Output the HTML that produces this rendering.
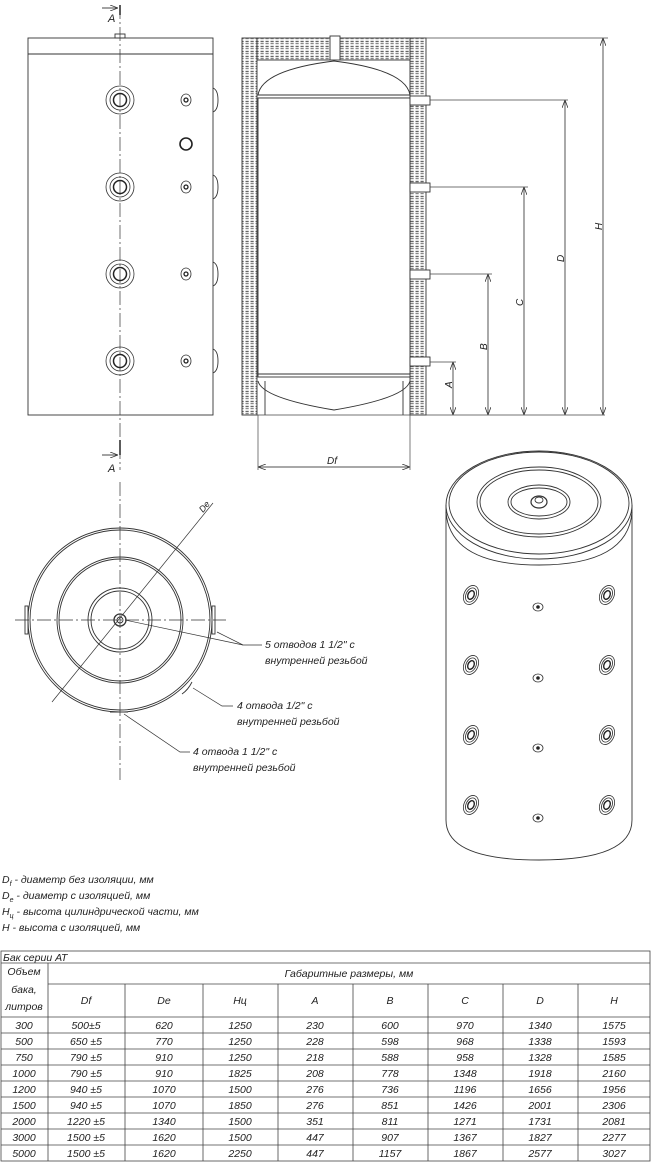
<!DOCTYPE html>
<html><head><meta charset="utf-8"><style>
html,body{margin:0;padding:0;background:#fff}
svg{display:block}
text{font-family:"Liberation Sans",sans-serif;font-style:italic;fill:#222}
</style></head><body>
<svg width="651" height="1162" viewBox="0 0 651 1162" xmlns="http://www.w3.org/2000/svg">
<defs>
<pattern id="ins" width="5" height="5" patternUnits="userSpaceOnUse">
<rect width="5" height="5" fill="#fff"/><rect x="0.5" y="0.8" width="3.2" height="1.4" fill="#666"/><rect x="0.5" y="3" width="3.2" height="1.2" fill="#888"/>
</pattern>
<marker id="ar" markerWidth="8" markerHeight="6" refX="8" refY="3" orient="auto" markerUnits="userSpaceOnUse"><path d="M0,0 L8,3 L0,6" fill="none" stroke="#333" stroke-width="0.8"/></marker>
<g id="noz"><circle r="14" fill="none" stroke="#333" stroke-width="0.8"/><circle r="10" fill="none" stroke="#333" stroke-width="0.8"/><circle r="6.5" fill="none" stroke="#222" stroke-width="1.5"/></g>
<g id="sm"><ellipse rx="5" ry="6" fill="none" stroke="#333" stroke-width="0.8"/><circle r="2" fill="none" stroke="#222" stroke-width="1.3"/></g>
<g id="n3"><ellipse rx="7" ry="10" transform="rotate(25)" fill="none" stroke="#333" stroke-width="0.8"/><ellipse rx="5" ry="7.5" transform="rotate(25)" fill="none" stroke="#333" stroke-width="0.8"/><ellipse rx="3" ry="4.5" transform="rotate(25)" fill="none" stroke="#222" stroke-width="1.4"/></g>
<g id="s3"><ellipse rx="5" ry="4" fill="none" stroke="#333" stroke-width="0.8"/><circle r="1.8" fill="#222"/></g>
</defs>
<g fill="none" stroke="#333" stroke-width="0.9">
<rect x="28" y="38" width="185" height="377"/>
<line x1="28" y1="54" x2="213" y2="54"/>
<rect x="115" y="34" width="10" height="4"/>
<line x1="120" y1="5" x2="120" y2="470" stroke-dasharray="14,3,2,3" stroke-width="0.7"/>
<line x1="120" y1="5" x2="120" y2="15" stroke-width="1.6"/>
<line x1="120" y1="440" x2="120" y2="455" stroke-width="1.6"/>
<line x1="102" y1="8" x2="118" y2="8" marker-end="url(#ar)"/>
<line x1="102" y1="455" x2="118" y2="455" marker-end="url(#ar)"/>
<path d="M213,88 q5,2 5,12 q0,10 -5,12 M213,175 q5,2 5,12 q0,10 -5,12 M213,262 q5,2 5,12 q0,10 -5,12 M213,349 q5,2 5,12 q0,10 -5,12"/>
</g>
<use href="#noz" x="120" y="100"/><use href="#noz" x="120" y="187"/><use href="#noz" x="120" y="274"/><use href="#noz" x="120" y="361"/>
<use href="#sm" x="186" y="100"/><use href="#sm" x="186" y="187"/><use href="#sm" x="186" y="274"/><use href="#sm" x="186" y="361"/>
<circle cx="186" cy="144" r="6" fill="none" stroke="#222" stroke-width="1.6"/>
<text x="108" y="22" font-size="11">A</text>
<text x="108" y="472" font-size="11">A</text>

<g stroke="#333" stroke-width="0.9">
<rect x="242" y="38" width="15" height="377" fill="url(#ins)"/>
<rect x="410" y="38" width="16" height="377" fill="url(#ins)"/>
<rect x="257" y="38" width="153" height="22" fill="url(#ins)"/>
<rect x="330" y="36" width="10" height="24" fill="#fff"/>
<path d="M258,95 Q262,70 334,61 Q406,70 410,95 Z" fill="#fff"/>
<line x1="258" y1="95" x2="410" y2="95"/><line x1="258" y1="98" x2="410" y2="98"/>
<rect x="258" y="98" width="152" height="279" fill="#fff"/>
<line x1="258" y1="374" x2="410" y2="374"/>
<path d="M258,381 Q262,398 334,410 Q406,398 410,381" fill="none"/>
<line x1="265" y1="381" x2="265" y2="415"/><line x1="403" y1="381" x2="403" y2="415"/>
<rect x="410" y="96" width="20" height="9" fill="#fff"/>
<rect x="410" y="183" width="20" height="9" fill="#fff"/>
<rect x="410" y="270" width="20" height="9" fill="#fff"/>
<rect x="410" y="357" width="20" height="9" fill="#fff"/>
</g>
<g fill="none" stroke="#444" stroke-width="0.7">
<line x1="242" y1="415" x2="605" y2="415"/>
<line x1="340" y1="38" x2="608" y2="38"/>
<line x1="430" y1="100" x2="568" y2="100"/>
<line x1="430" y1="187" x2="528" y2="187"/>
<line x1="430" y1="274" x2="492" y2="274"/>
<line x1="430" y1="362" x2="456" y2="362"/>
<line x1="453" y1="362" x2="453" y2="415" marker-end="url(#ar)"/><line x1="453" y1="415" x2="453" y2="362" marker-end="url(#ar)"/>
<line x1="488" y1="274" x2="488" y2="415" marker-end="url(#ar)"/><line x1="488" y1="415" x2="488" y2="274" marker-end="url(#ar)"/>
<line x1="524" y1="187" x2="524" y2="415" marker-end="url(#ar)"/><line x1="524" y1="415" x2="524" y2="187" marker-end="url(#ar)"/>
<line x1="565" y1="100" x2="565" y2="415" marker-end="url(#ar)"/><line x1="565" y1="415" x2="565" y2="100" marker-end="url(#ar)"/>
<line x1="603" y1="38" x2="603" y2="415" marker-end="url(#ar)"/><line x1="603" y1="415" x2="603" y2="38" marker-end="url(#ar)"/>
<line x1="258" y1="415" x2="258" y2="470"/><line x1="410" y1="415" x2="410" y2="470"/>
<line x1="258" y1="467" x2="410" y2="467" marker-end="url(#ar)"/><line x1="410" y1="467" x2="258" y2="467" marker-end="url(#ar)"/>
</g>
<text font-size="10" transform="translate(452,388) rotate(-90)">A</text>
<text font-size="10" transform="translate(487,350) rotate(-90)">B</text>
<text font-size="10" transform="translate(523,306) rotate(-90)">C</text>
<text font-size="10" transform="translate(564,262) rotate(-90)">D</text>
<text font-size="10" transform="translate(602,230) rotate(-90)">H</text>
<text x="327" y="464" font-size="10">Df</text>

<g fill="none" stroke="#333" stroke-width="0.9">
<circle cx="120" cy="620" r="92"/><circle cx="120" cy="620" r="90"/>
<circle cx="120" cy="620" r="63"/><circle cx="120" cy="620" r="61"/>
<circle cx="120" cy="620" r="32"/><circle cx="120" cy="620" r="29"/>
<circle cx="120" cy="620" r="6" stroke-width="1.3"/><circle cx="120" cy="620" r="3"/>
<line x1="15" y1="620" x2="226" y2="620" stroke-dasharray="14,3,2,3" stroke-width="0.7"/>
<line x1="120" y1="482" x2="120" y2="780" stroke-dasharray="14,3,2,3" stroke-width="0.7"/>
<line x1="52" y1="702" x2="213" y2="503" stroke-width="0.7"/>
<rect x="25" y="606" width="3" height="28"/><rect x="212" y="606" width="3" height="28"/>
<path d="M182,694 q6,-4 10,-12"/><path d="M110,712 h18"/>
<g stroke-width="0.7"><path d="M262,645 H243 L217,632"/><line x1="243" y1="645" x2="125" y2="620"/>
<path d="M233,706 H222 L193,688"/><path d="M190,752 H180 L124,714"/></g>
</g>
<text font-size="9" transform="translate(203,513) rotate(-50)">De</text>
<text x="265" y="648" font-size="10.5">5 отводов  1 1/2"  с</text>
<text x="265" y="664" font-size="10.5">внутренней резьбой</text>
<text x="237" y="709" font-size="10.5">4 отвода  1/2"  с</text>
<text x="237" y="725" font-size="10.5">внутренней резьбой</text>
<text x="193" y="755" font-size="10.5">4 отвода  1 1/2"  с</text>
<text x="193" y="771" font-size="10.5">внутренней резьбой</text>

<g fill="none" stroke="#333" stroke-width="0.9">
<path d="M446,505 L446,820 Q446,860 539,860 Q632,860 632,820 L632,505"/>
<ellipse cx="539" cy="505" rx="93" ry="54"/>
<ellipse cx="539" cy="503" rx="90" ry="51"/>
<path d="M446,512 Q450,565 539,565 Q628,565 632,512"/>
<ellipse cx="539" cy="502" rx="62" ry="35"/><ellipse cx="539" cy="502" rx="59" ry="32"/>
<ellipse cx="539" cy="502" rx="31" ry="17"/><ellipse cx="539" cy="502" rx="28" ry="14"/>
<ellipse cx="539" cy="502" rx="8" ry="6" stroke-width="1.2"/><ellipse cx="539" cy="500" rx="4" ry="3"/>
</g>
<use href="#n3" x="471" y="595"/><use href="#n3" x="607" y="595"/>
<use href="#n3" x="471" y="665"/><use href="#n3" x="607" y="665"/>
<use href="#n3" x="471" y="735"/><use href="#n3" x="607" y="735"/>
<use href="#n3" x="471" y="805"/><use href="#n3" x="607" y="805"/>
<use href="#s3" x="538" y="607"/><use href="#s3" x="538" y="678"/><use href="#s3" x="538" y="748"/><use href="#s3" x="538" y="818"/>

<text x="2" y="883" font-size="10.5">D<tspan font-size="7" dy="3">f</tspan><tspan dy="-3">  -  диаметр без изоляции, мм</tspan></text>
<text x="2" y="899" font-size="10.5">D<tspan font-size="7" dy="3">e</tspan><tspan dy="-3">  -  диаметр с изоляцией, мм</tspan></text>
<text x="2" y="915" font-size="10.5">H<tspan font-size="7" dy="3">ц</tspan><tspan dy="-3">  -  высота цилиндрической части, мм</tspan></text>
<text x="2" y="931" font-size="10.5">H  -  высота с изоляцией, мм</text>

<g stroke="#444" stroke-width="0.8" fill="none">
<rect x="1" y="951" width="649" height="210"/>
<line x1="1" y1="963" x2="650" y2="963"/>
<line x1="48" y1="984" x2="650" y2="984"/>
<line x1="1" y1="1017" x2="650" y2="1017"/>
<line x1="1" y1="1033" x2="650" y2="1033"/><line x1="1" y1="1049" x2="650" y2="1049"/>
<line x1="1" y1="1065" x2="650" y2="1065"/><line x1="1" y1="1081" x2="650" y2="1081"/>
<line x1="1" y1="1097" x2="650" y2="1097"/><line x1="1" y1="1113" x2="650" y2="1113"/>
<line x1="1" y1="1129" x2="650" y2="1129"/><line x1="1" y1="1145" x2="650" y2="1145"/>
<line x1="48" y1="963" x2="48" y2="1161"/>
<line x1="125" y1="984" x2="125" y2="1161"/><line x1="203" y1="984" x2="203" y2="1161"/>
<line x1="278" y1="984" x2="278" y2="1161"/><line x1="353" y1="984" x2="353" y2="1161"/>
<line x1="428" y1="984" x2="428" y2="1161"/><line x1="503" y1="984" x2="503" y2="1161"/>
<line x1="578" y1="984" x2="578" y2="1161"/>
</g>
<text x="3" y="961" font-size="10.5">Бак серии  АТ</text>
<g font-size="10.5" text-anchor="middle">
<text x="24" y="975">Объем</text><text x="24" y="993">бака,</text><text x="24" y="1010">литров</text>
<text x="349" y="977">Габаритные размеры, мм</text>
<text x="86" y="1004">Df</text><text x="164" y="1004">De</text><text x="240" y="1004">Нц</text><text x="315" y="1004">A</text><text x="390" y="1004">B</text><text x="465" y="1004">C</text><text x="540" y="1004">D</text><text x="614" y="1004">H</text>
</g>
<g font-size="10.5" text-anchor="middle">
<g transform="translate(0,1029)"><text x="24">300</text><text x="86">500±5</text><text x="164">620</text><text x="240">1250</text><text x="315">230</text><text x="390">600</text><text x="465">970</text><text x="540">1340</text><text x="614">1575</text></g>
<g transform="translate(0,1045)"><text x="24">500</text><text x="86">650 ±5</text><text x="164">770</text><text x="240">1250</text><text x="315">228</text><text x="390">598</text><text x="465">968</text><text x="540">1338</text><text x="614">1593</text></g>
<g transform="translate(0,1061)"><text x="24">750</text><text x="86">790 ±5</text><text x="164">910</text><text x="240">1250</text><text x="315">218</text><text x="390">588</text><text x="465">958</text><text x="540">1328</text><text x="614">1585</text></g>
<g transform="translate(0,1077)"><text x="24">1000</text><text x="86">790 ±5</text><text x="164">910</text><text x="240">1825</text><text x="315">208</text><text x="390">778</text><text x="465">1348</text><text x="540">1918</text><text x="614">2160</text></g>
<g transform="translate(0,1093)"><text x="24">1200</text><text x="86">940 ±5</text><text x="164">1070</text><text x="240">1500</text><text x="315">276</text><text x="390">736</text><text x="465">1196</text><text x="540">1656</text><text x="614">1956</text></g>
<g transform="translate(0,1109)"><text x="24">1500</text><text x="86">940 ±5</text><text x="164">1070</text><text x="240">1850</text><text x="315">276</text><text x="390">851</text><text x="465">1426</text><text x="540">2001</text><text x="614">2306</text></g>
<g transform="translate(0,1125)"><text x="24">2000</text><text x="86">1220 ±5</text><text x="164">1340</text><text x="240">1500</text><text x="315">351</text><text x="390">811</text><text x="465">1271</text><text x="540">1731</text><text x="614">2081</text></g>
<g transform="translate(0,1141)"><text x="24">3000</text><text x="86">1500 ±5</text><text x="164">1620</text><text x="240">1500</text><text x="315">447</text><text x="390">907</text><text x="465">1367</text><text x="540">1827</text><text x="614">2277</text></g>
<g transform="translate(0,1157)"><text x="24">5000</text><text x="86">1500 ±5</text><text x="164">1620</text><text x="240">2250</text><text x="315">447</text><text x="390">1157</text><text x="465">1867</text><text x="540">2577</text><text x="614">3027</text></g>
</g>
</svg>
</body></html>
